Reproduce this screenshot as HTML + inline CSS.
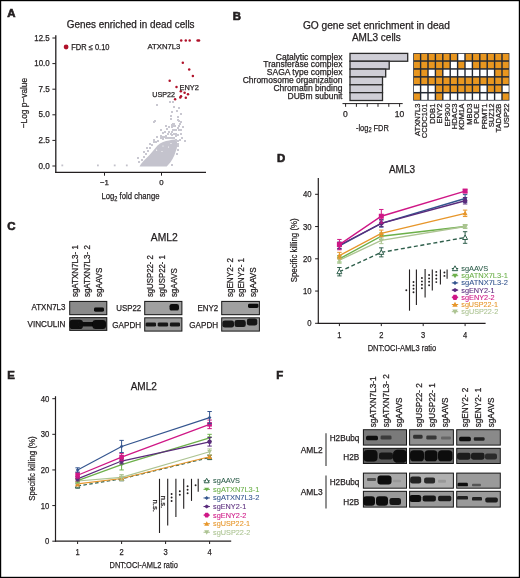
<!DOCTYPE html>
<html><head><meta charset="utf-8"><style>
html,body{margin:0;padding:0;background:#fff;width:520px;height:578px;overflow:hidden}
svg{display:block;font-family:"Liberation Sans", sans-serif;opacity:0.999}
</style></head><body>
<svg width="520" height="578" viewBox="0 0 520 578">
<defs><filter id="b1" x="-50%" y="-50%" width="200%" height="200%"><feGaussianBlur stdDeviation="0.75"/></filter></defs>
<rect width="520" height="578" fill="#fff"/>
<text x="7.3" y="17.1" font-size="11.4" text-anchor="start" fill="#231f20" font-weight="bold" stroke="#231f20" stroke-width="0.65">A</text>
<text x="232.7" y="20.4" font-size="11.4" text-anchor="start" fill="#231f20" font-weight="bold" stroke="#231f20" stroke-width="0.65">B</text>
<text x="7.3" y="229.6" font-size="11.4" text-anchor="start" fill="#231f20" font-weight="bold" stroke="#231f20" stroke-width="0.65">C</text>
<text x="277" y="161.6" font-size="11.4" text-anchor="start" fill="#231f20" font-weight="bold" stroke="#231f20" stroke-width="0.65">D</text>
<text x="7.3" y="379.2" font-size="11.4" text-anchor="start" fill="#231f20" font-weight="bold" stroke="#231f20" stroke-width="0.65">E</text>
<text x="276.2" y="379.2" font-size="11.4" text-anchor="start" fill="#231f20" font-weight="bold" stroke="#231f20" stroke-width="0.65">F</text>
<text x="66.7" y="28.3" font-size="10" text-anchor="start" fill="#231f20" stroke="#231f20" stroke-width="0.25" textLength="127.9" lengthAdjust="spacingAndGlyphs">Genes enriched in dead cells</text>
<line x1="55.8" y1="35.2" x2="55.8" y2="173" stroke="#231f20" stroke-width="1.3"/>
<line x1="55.2" y1="172.3" x2="206" y2="172.3" stroke="#231f20" stroke-width="1.3"/>
<line x1="52.4" y1="166.0" x2="55.7" y2="166.0" stroke="#231f20" stroke-width="1"/>
<text x="49.7" y="168.6" font-size="8.3" text-anchor="end" fill="#231f20" stroke="#231f20" stroke-width="0.25" textLength="11.3" lengthAdjust="spacingAndGlyphs">0.0</text>
<line x1="52.4" y1="140.4" x2="55.7" y2="140.4" stroke="#231f20" stroke-width="1"/>
<text x="49.7" y="143.0" font-size="8.3" text-anchor="end" fill="#231f20" stroke="#231f20" stroke-width="0.25" textLength="11.3" lengthAdjust="spacingAndGlyphs">2.5</text>
<line x1="52.4" y1="114.8" x2="55.7" y2="114.8" stroke="#231f20" stroke-width="1"/>
<text x="49.7" y="117.39999999999999" font-size="8.3" text-anchor="end" fill="#231f20" stroke="#231f20" stroke-width="0.25" textLength="11.3" lengthAdjust="spacingAndGlyphs">5.0</text>
<line x1="52.4" y1="89.19999999999999" x2="55.7" y2="89.19999999999999" stroke="#231f20" stroke-width="1"/>
<text x="49.7" y="91.79999999999998" font-size="8.3" text-anchor="end" fill="#231f20" stroke="#231f20" stroke-width="0.25" textLength="11.3" lengthAdjust="spacingAndGlyphs">7.5</text>
<line x1="52.4" y1="63.599999999999994" x2="55.7" y2="63.599999999999994" stroke="#231f20" stroke-width="1"/>
<text x="49.7" y="66.19999999999999" font-size="8.3" text-anchor="end" fill="#231f20" stroke="#231f20" stroke-width="0.25" textLength="15.4" lengthAdjust="spacingAndGlyphs">10.0</text>
<line x1="52.4" y1="38.0" x2="55.7" y2="38.0" stroke="#231f20" stroke-width="1"/>
<text x="49.7" y="40.6" font-size="8.3" text-anchor="end" fill="#231f20" stroke="#231f20" stroke-width="0.25" textLength="15.4" lengthAdjust="spacingAndGlyphs">12.5</text>
<line x1="104.5" y1="172.3" x2="104.5" y2="175.7" stroke="#231f20" stroke-width="1"/>
<text x="104.5" y="185.2" font-size="7.8" text-anchor="middle" fill="#231f20" stroke="#231f20" stroke-width="0.25">−1</text>
<line x1="161.5" y1="172.3" x2="161.5" y2="175.7" stroke="#231f20" stroke-width="1"/>
<text x="161.5" y="185.2" font-size="7.8" text-anchor="middle" fill="#231f20" stroke="#231f20" stroke-width="0.25">0</text>
<text x="101.5" y="199.2" font-size="9.4" fill="#231f20" stroke="#231f20" stroke-width="0.25" textLength="58" lengthAdjust="spacingAndGlyphs">Log<tspan font-size="6.8" dy="1.9">2</tspan><tspan dy="-1.9"> fold change</tspan></text>
<text transform="translate(26.8,103.1) rotate(-90)" font-size="9.5" text-anchor="middle" fill="#231f20" stroke="#231f20" stroke-width="0.25" textLength="50.5" lengthAdjust="spacingAndGlyphs">−Log p−value</text>
<circle cx="66.10" cy="47.00" r="2.4" fill="#b0122a"/>
<text x="71.3" y="50" font-size="8.2" text-anchor="start" fill="#231f20" stroke="#231f20" stroke-width="0.25" textLength="38.2" lengthAdjust="spacingAndGlyphs">FDR ≤ 0.10</text>
<polygon points="139.5,166.6 141,164 143.5,161 146.5,158 149.5,155 152.5,151.5 155,148.5 157.5,145.5 160,143.5 163,142 166,141 169,140.5 172,139.8 175,139.5 176.8,140.5 177.2,144 176.8,148.5 175.5,152 174.3,155.6 172.5,159 170.5,162.3 168.5,164.5 166.7,166.6" fill="#c4c3cd"/>
<rect x="156" y="104" width="2" height="2" fill="#c9c8d1"/>
<rect x="169" y="101" width="2" height="2" fill="#c9c8d1"/>
<rect x="172" y="101" width="2" height="2" fill="#c9c8d1"/>
<rect x="173" y="106" width="2" height="2" fill="#c9c8d1"/>
<rect x="178" y="107" width="2" height="2" fill="#c9c8d1"/>
<rect x="171" y="111" width="2" height="2" fill="#c9c8d1"/>
<rect x="176" y="110" width="2" height="2" fill="#c9c8d1"/>
<rect x="180" y="113" width="2" height="2" fill="#c9c8d1"/>
<rect x="170" y="115" width="2" height="2" fill="#c9c8d1"/>
<rect x="170" y="118" width="2" height="2" fill="#c9c8d1"/>
<rect x="177" y="116" width="2" height="2" fill="#c9c8d1"/>
<rect x="177" y="119" width="2" height="2" fill="#c9c8d1"/>
<rect x="178" y="120" width="2" height="2" fill="#c9c8d1"/>
<rect x="154" y="120" width="2" height="2" fill="#c9c8d1"/>
<rect x="153" y="121" width="2" height="2" fill="#c9c8d1"/>
<rect x="180" y="121" width="2" height="2" fill="#c9c8d1"/>
<rect x="179" y="123" width="2" height="2" fill="#c9c8d1"/>
<rect x="178" y="125" width="2" height="2" fill="#c9c8d1"/>
<rect x="177" y="127" width="2" height="2" fill="#c9c8d1"/>
<rect x="172" y="123" width="2" height="2" fill="#c9c8d1"/>
<rect x="171" y="124" width="2" height="2" fill="#c9c8d1"/>
<rect x="173" y="125" width="2" height="2" fill="#c9c8d1"/>
<rect x="173" y="123" width="2" height="2" fill="#c9c8d1"/>
<rect x="174" y="125" width="2" height="2" fill="#c9c8d1"/>
<rect x="171" y="126" width="2" height="2" fill="#c9c8d1"/>
<rect x="182" y="126" width="2" height="2" fill="#c9c8d1"/>
<rect x="165" y="125" width="2" height="2" fill="#c9c8d1"/>
<rect x="168" y="126" width="2" height="2" fill="#c9c8d1"/>
<rect x="177" y="127" width="2" height="2" fill="#c9c8d1"/>
<rect x="175" y="129" width="2" height="2" fill="#c9c8d1"/>
<rect x="178" y="129" width="2" height="2" fill="#c9c8d1"/>
<rect x="166" y="128" width="2" height="2" fill="#c9c8d1"/>
<rect x="160" y="129" width="2" height="2" fill="#c9c8d1"/>
<rect x="172" y="129" width="2" height="2" fill="#c9c8d1"/>
<rect x="174" y="129" width="2" height="2" fill="#c9c8d1"/>
<rect x="180" y="129" width="2" height="2" fill="#c9c8d1"/>
<rect x="164" y="131" width="2" height="2" fill="#c9c8d1"/>
<rect x="162" y="132" width="2" height="2" fill="#c9c8d1"/>
<rect x="167" y="133" width="2" height="2" fill="#c9c8d1"/>
<rect x="170" y="133" width="2" height="2" fill="#c9c8d1"/>
<rect x="171" y="134" width="2" height="2" fill="#c9c8d1"/>
<rect x="173" y="133" width="2" height="2" fill="#c9c8d1"/>
<rect x="175" y="135" width="2" height="2" fill="#c9c8d1"/>
<rect x="175" y="133" width="2" height="2" fill="#c9c8d1"/>
<rect x="177" y="134" width="2" height="2" fill="#c9c8d1"/>
<rect x="180" y="133" width="2" height="2" fill="#c9c8d1"/>
<rect x="160" y="135" width="2" height="2" fill="#c9c8d1"/>
<rect x="156" y="136" width="2" height="2" fill="#c9c8d1"/>
<rect x="163" y="136" width="2" height="2" fill="#c9c8d1"/>
<rect x="153" y="139" width="2" height="2" fill="#c9c8d1"/>
<rect x="153" y="141" width="2" height="2" fill="#c9c8d1"/>
<rect x="160" y="137" width="2" height="2" fill="#c9c8d1"/>
<rect x="184" y="140" width="2" height="2" fill="#c9c8d1"/>
<rect x="165" y="137" width="2" height="2" fill="#c9c8d1"/>
<rect x="167" y="137" width="2" height="2" fill="#c9c8d1"/>
<rect x="169" y="137" width="2" height="2" fill="#c9c8d1"/>
<rect x="171" y="137" width="2" height="2" fill="#c9c8d1"/>
<rect x="173" y="137" width="2" height="2" fill="#c9c8d1"/>
<rect x="175" y="139" width="2" height="2" fill="#c9c8d1"/>
<rect x="177" y="140" width="2" height="2" fill="#c9c8d1"/>
<rect x="162" y="138" width="2" height="2" fill="#c9c8d1"/>
<rect x="177" y="143" width="2" height="2" fill="#c9c8d1"/>
<rect x="177" y="145" width="2" height="2" fill="#c9c8d1"/>
<rect x="177" y="149" width="2" height="2" fill="#c9c8d1"/>
<rect x="176" y="153" width="2" height="2" fill="#c9c8d1"/>
<rect x="181" y="137" width="2" height="2" fill="#c9c8d1"/>
<rect x="179" y="139" width="2" height="2" fill="#c9c8d1"/>
<rect x="171" y="164" width="2" height="2" fill="#c9c8d1"/>
<rect x="151" y="144" width="2" height="2" fill="#c9c8d1"/>
<rect x="149" y="147" width="2" height="2" fill="#c9c8d1"/>
<rect x="147" y="150" width="2" height="2" fill="#c9c8d1"/>
<rect x="145" y="153" width="2" height="2" fill="#c9c8d1"/>
<rect x="143" y="156" width="2" height="2" fill="#c9c8d1"/>
<rect x="141" y="159" width="2" height="2" fill="#c9c8d1"/>
<rect x="138" y="161" width="2" height="2" fill="#c9c8d1"/>
<rect x="137" y="157" width="2" height="2" fill="#c9c8d1"/>
<rect x="155" y="141" width="2" height="2" fill="#c9c8d1"/>
<rect x="157" y="140" width="2" height="2" fill="#c9c8d1"/>
<rect x="149" y="143" width="2" height="2" fill="#c9c8d1"/>
<rect x="146" y="147" width="2" height="2" fill="#c9c8d1"/>
<rect x="143" y="151" width="2" height="2" fill="#c9c8d1"/>
<rect x="161" y="136" width="2" height="2" fill="#c9c8d1"/>
<rect x="165" y="135" width="2" height="2" fill="#c9c8d1"/>
<rect x="168" y="131" width="2" height="2" fill="#c9c8d1"/>
<rect x="171" y="131" width="2" height="2" fill="#c9c8d1"/>
<rect x="61.40" y="164.5" width="1.8" height="1.8" fill="#c3c2cb"/>
<rect x="97.00" y="164.5" width="1.8" height="1.8" fill="#c3c2cb"/>
<rect x="113.80" y="164.5" width="1.8" height="1.8" fill="#c3c2cb"/>
<rect x="125.90" y="164.5" width="1.8" height="1.8" fill="#c3c2cb"/>
<circle cx="156.60" cy="150.20" r="0.6" fill="#ffffff"/>
<circle cx="162.00" cy="151.50" r="0.6" fill="#ffffff"/>
<circle cx="163.00" cy="146.00" r="0.6" fill="#ffffff"/>
<circle cx="171.00" cy="143.50" r="0.6" fill="#ffffff"/>
<circle cx="168.50" cy="147.00" r="0.6" fill="#ffffff"/>
<circle cx="181.20" cy="40.50" r="1.25" fill="#b0122a"/>
<circle cx="185.80" cy="40.50" r="1.25" fill="#b0122a"/>
<circle cx="189.70" cy="40.50" r="1.25" fill="#b0122a"/>
<circle cx="197.60" cy="40.40" r="1.25" fill="#b0122a"/>
<circle cx="199.00" cy="40.60" r="1.25" fill="#b0122a"/>
<circle cx="182.80" cy="62.80" r="1.25" fill="#b0122a"/>
<circle cx="189.20" cy="69.40" r="1.25" fill="#b0122a"/>
<circle cx="192.90" cy="76.00" r="1.25" fill="#b0122a"/>
<circle cx="169.70" cy="80.80" r="1.25" fill="#b0122a"/>
<circle cx="176.50" cy="86.90" r="1.25" fill="#b0122a"/>
<circle cx="180.80" cy="91.20" r="1.25" fill="#b0122a"/>
<circle cx="184.60" cy="92.80" r="1.25" fill="#b0122a"/>
<circle cx="188.00" cy="94.30" r="1.25" fill="#b0122a"/>
<circle cx="180.30" cy="97.40" r="1.25" fill="#b0122a"/>
<circle cx="181.00" cy="96.30" r="1.25" fill="#b0122a"/>
<circle cx="185.80" cy="97.70" r="1.25" fill="#b0122a"/>
<circle cx="175.10" cy="99.20" r="1.25" fill="#b0122a"/>
<text x="147.5" y="48.5" font-size="7.7" text-anchor="start" fill="#231f20" stroke="#231f20" stroke-width="0.25" textLength="32.9" lengthAdjust="spacingAndGlyphs">ATXN7L3</text>
<text x="179.5" y="89.7" font-size="7.7" text-anchor="start" fill="#231f20" stroke="#231f20" stroke-width="0.25" textLength="19.4" lengthAdjust="spacingAndGlyphs">ENY2</text>
<text x="152.3" y="97.1" font-size="7.7" text-anchor="start" fill="#231f20" stroke="#231f20" stroke-width="0.25" textLength="22.7" lengthAdjust="spacingAndGlyphs">USP22</text>
<text x="376.4" y="28.6" font-size="10" text-anchor="middle" fill="#231f20" stroke="#231f20" stroke-width="0.25" textLength="147" lengthAdjust="spacingAndGlyphs">GO gene set enrichment in dead</text>
<text x="376.4" y="41" font-size="10" text-anchor="middle" fill="#231f20" stroke="#231f20" stroke-width="0.25">AML3 cells</text>
<text x="342.4" y="59.6" font-size="8.5" text-anchor="end" fill="#231f20" stroke="#231f20" stroke-width="0.25">Catalytic complex</text>
<text x="342.4" y="67.45" font-size="8.5" text-anchor="end" fill="#231f20" stroke="#231f20" stroke-width="0.25">Transferase complex</text>
<text x="342.4" y="75.3" font-size="8.5" text-anchor="end" fill="#231f20" stroke="#231f20" stroke-width="0.25">SAGA type complex</text>
<text x="342.4" y="83.15" font-size="8.5" text-anchor="end" fill="#231f20" stroke="#231f20" stroke-width="0.25">Chromosome organization</text>
<text x="342.4" y="91.0" font-size="8.5" text-anchor="end" fill="#231f20" stroke="#231f20" stroke-width="0.25">Chromatin binding</text>
<text x="342.4" y="98.85" font-size="8.5" text-anchor="end" fill="#231f20" stroke="#231f20" stroke-width="0.25">DUBm subunit</text>
<rect x="350" y="53.4" width="57.69999999999999" height="7.85" fill="#cfced6" stroke="#2b2b2b" stroke-width="1.3"/>
<rect x="350" y="61.25" width="39.19999999999999" height="7.85" fill="#cfced6" stroke="#2b2b2b" stroke-width="1.3"/>
<rect x="350" y="69.1" width="35.69999999999999" height="7.85" fill="#cfced6" stroke="#2b2b2b" stroke-width="1.3"/>
<rect x="350" y="76.94999999999999" width="32.5" height="7.85" fill="#cfced6" stroke="#2b2b2b" stroke-width="1.3"/>
<rect x="350" y="84.8" width="32.5" height="7.85" fill="#cfced6" stroke="#2b2b2b" stroke-width="1.3"/>
<rect x="350" y="92.65" width="32.5" height="7.85" fill="#cfced6" stroke="#2b2b2b" stroke-width="1.3"/>
<line x1="342.5" y1="103.6" x2="402.7" y2="103.6" stroke="#231f20" stroke-width="1"/>
<line x1="345.6" y1="103.6" x2="345.6" y2="106.8" stroke="#231f20" stroke-width="1"/>
<line x1="356.40000000000003" y1="103.6" x2="356.40000000000003" y2="106.8" stroke="#231f20" stroke-width="1"/>
<line x1="367.20000000000005" y1="103.6" x2="367.20000000000005" y2="106.8" stroke="#231f20" stroke-width="1"/>
<line x1="378.0" y1="103.6" x2="378.0" y2="106.8" stroke="#231f20" stroke-width="1"/>
<line x1="388.8" y1="103.6" x2="388.8" y2="106.8" stroke="#231f20" stroke-width="1"/>
<line x1="399.6" y1="103.6" x2="399.6" y2="106.8" stroke="#231f20" stroke-width="1"/>
<text x="345.3" y="117" font-size="8.5" text-anchor="middle" fill="#231f20" stroke="#231f20" stroke-width="0.25">0</text>
<text x="399.4" y="117" font-size="8.5" text-anchor="middle" fill="#231f20" stroke="#231f20" stroke-width="0.25">10</text>
<text x="356" y="130.5" font-size="8.8" fill="#231f20" stroke="#231f20" stroke-width="0.25" textLength="32.8" lengthAdjust="spacingAndGlyphs">-log<tspan font-size="6.6" dy="1.8">2</tspan><tspan dy="-1.8"> FDR</tspan></text>
<rect x="413.2" y="53.1" width="96.2" height="47.519999999999996" fill="#232935"/>
<rect x="413.9" y="53.85" width="6.0" height="6.42" fill="#e8961f"/>
<rect x="421.29999999999995" y="53.85" width="6.0" height="6.42" fill="#e8961f"/>
<rect x="428.7" y="53.85" width="6.0" height="6.42" fill="#e8961f"/>
<rect x="436.09999999999997" y="53.85" width="6.0" height="6.42" fill="#e8961f"/>
<rect x="443.5" y="53.85" width="6.0" height="6.42" fill="#e8961f"/>
<rect x="450.9" y="53.85" width="6.0" height="6.42" fill="#e8961f"/>
<rect x="458.3" y="53.85" width="6.0" height="6.42" fill="#ffffff"/>
<rect x="465.7" y="53.85" width="6.0" height="6.42" fill="#e8961f"/>
<rect x="473.09999999999997" y="53.85" width="6.0" height="6.42" fill="#e8961f"/>
<rect x="480.5" y="53.85" width="6.0" height="6.42" fill="#e8961f"/>
<rect x="487.9" y="53.85" width="6.0" height="6.42" fill="#e8961f"/>
<rect x="495.3" y="53.85" width="6.0" height="6.42" fill="#e8961f"/>
<rect x="502.7" y="53.85" width="6.0" height="6.42" fill="#e8961f"/>
<rect x="413.9" y="61.77" width="6.0" height="6.42" fill="#e8961f"/>
<rect x="421.29999999999995" y="61.77" width="6.0" height="6.42" fill="#e8961f"/>
<rect x="428.7" y="61.77" width="6.0" height="6.42" fill="#e8961f"/>
<rect x="436.09999999999997" y="61.77" width="6.0" height="6.42" fill="#e8961f"/>
<rect x="443.5" y="61.77" width="6.0" height="6.42" fill="#e8961f"/>
<rect x="450.9" y="61.77" width="6.0" height="6.42" fill="#ffffff"/>
<rect x="458.3" y="61.77" width="6.0" height="6.42" fill="#e8961f"/>
<rect x="465.7" y="61.77" width="6.0" height="6.42" fill="#ffffff"/>
<rect x="473.09999999999997" y="61.77" width="6.0" height="6.42" fill="#e8961f"/>
<rect x="480.5" y="61.77" width="6.0" height="6.42" fill="#e8961f"/>
<rect x="487.9" y="61.77" width="6.0" height="6.42" fill="#e8961f"/>
<rect x="495.3" y="61.77" width="6.0" height="6.42" fill="#e8961f"/>
<rect x="502.7" y="61.77" width="6.0" height="6.42" fill="#e8961f"/>
<rect x="413.9" y="69.69" width="6.0" height="6.42" fill="#e8961f"/>
<rect x="421.29999999999995" y="69.69" width="6.0" height="6.42" fill="#e8961f"/>
<rect x="428.7" y="69.69" width="6.0" height="6.42" fill="#ffffff"/>
<rect x="436.09999999999997" y="69.69" width="6.0" height="6.42" fill="#e8961f"/>
<rect x="443.5" y="69.69" width="6.0" height="6.42" fill="#ffffff"/>
<rect x="450.9" y="69.69" width="6.0" height="6.42" fill="#ffffff"/>
<rect x="458.3" y="69.69" width="6.0" height="6.42" fill="#ffffff"/>
<rect x="465.7" y="69.69" width="6.0" height="6.42" fill="#ffffff"/>
<rect x="473.09999999999997" y="69.69" width="6.0" height="6.42" fill="#ffffff"/>
<rect x="480.5" y="69.69" width="6.0" height="6.42" fill="#ffffff"/>
<rect x="487.9" y="69.69" width="6.0" height="6.42" fill="#ffffff"/>
<rect x="495.3" y="69.69" width="6.0" height="6.42" fill="#e8961f"/>
<rect x="502.7" y="69.69" width="6.0" height="6.42" fill="#e8961f"/>
<rect x="413.9" y="77.61" width="6.0" height="6.42" fill="#e8961f"/>
<rect x="421.29999999999995" y="77.61" width="6.0" height="6.42" fill="#e8961f"/>
<rect x="428.7" y="77.61" width="6.0" height="6.42" fill="#e8961f"/>
<rect x="436.09999999999997" y="77.61" width="6.0" height="6.42" fill="#e8961f"/>
<rect x="443.5" y="77.61" width="6.0" height="6.42" fill="#e8961f"/>
<rect x="450.9" y="77.61" width="6.0" height="6.42" fill="#e8961f"/>
<rect x="458.3" y="77.61" width="6.0" height="6.42" fill="#e8961f"/>
<rect x="465.7" y="77.61" width="6.0" height="6.42" fill="#e8961f"/>
<rect x="473.09999999999997" y="77.61" width="6.0" height="6.42" fill="#e8961f"/>
<rect x="480.5" y="77.61" width="6.0" height="6.42" fill="#e8961f"/>
<rect x="487.9" y="77.61" width="6.0" height="6.42" fill="#e8961f"/>
<rect x="495.3" y="77.61" width="6.0" height="6.42" fill="#e8961f"/>
<rect x="502.7" y="77.61" width="6.0" height="6.42" fill="#e8961f"/>
<rect x="413.9" y="85.53" width="6.0" height="6.42" fill="#ffffff"/>
<rect x="421.29999999999995" y="85.53" width="6.0" height="6.42" fill="#ffffff"/>
<rect x="428.7" y="85.53" width="6.0" height="6.42" fill="#ffffff"/>
<rect x="436.09999999999997" y="85.53" width="6.0" height="6.42" fill="#e8961f"/>
<rect x="443.5" y="85.53" width="6.0" height="6.42" fill="#e8961f"/>
<rect x="450.9" y="85.53" width="6.0" height="6.42" fill="#e8961f"/>
<rect x="458.3" y="85.53" width="6.0" height="6.42" fill="#e8961f"/>
<rect x="465.7" y="85.53" width="6.0" height="6.42" fill="#e8961f"/>
<rect x="473.09999999999997" y="85.53" width="6.0" height="6.42" fill="#e8961f"/>
<rect x="480.5" y="85.53" width="6.0" height="6.42" fill="#ffffff"/>
<rect x="487.9" y="85.53" width="6.0" height="6.42" fill="#e8961f"/>
<rect x="495.3" y="85.53" width="6.0" height="6.42" fill="#e8961f"/>
<rect x="502.7" y="85.53" width="6.0" height="6.42" fill="#ffffff"/>
<rect x="413.9" y="93.45" width="6.0" height="6.42" fill="#e8961f"/>
<rect x="421.29999999999995" y="93.45" width="6.0" height="6.42" fill="#ffffff"/>
<rect x="428.7" y="93.45" width="6.0" height="6.42" fill="#ffffff"/>
<rect x="436.09999999999997" y="93.45" width="6.0" height="6.42" fill="#e8961f"/>
<rect x="443.5" y="93.45" width="6.0" height="6.42" fill="#ffffff"/>
<rect x="450.9" y="93.45" width="6.0" height="6.42" fill="#ffffff"/>
<rect x="458.3" y="93.45" width="6.0" height="6.42" fill="#ffffff"/>
<rect x="465.7" y="93.45" width="6.0" height="6.42" fill="#ffffff"/>
<rect x="473.09999999999997" y="93.45" width="6.0" height="6.42" fill="#ffffff"/>
<rect x="480.5" y="93.45" width="6.0" height="6.42" fill="#ffffff"/>
<rect x="487.9" y="93.45" width="6.0" height="6.42" fill="#ffffff"/>
<rect x="495.3" y="93.45" width="6.0" height="6.42" fill="#ffffff"/>
<rect x="502.7" y="93.45" width="6.0" height="6.42" fill="#e8961f"/>
<text transform="translate(420.0,103.6) rotate(-90)" font-size="7.6" text-anchor="end" fill="#231f20" stroke="#231f20" stroke-width="0.25">ATXN7L3</text>
<text transform="translate(427.4,103.6) rotate(-90)" font-size="7.6" text-anchor="end" fill="#231f20" stroke="#231f20" stroke-width="0.25">CCDC101</text>
<text transform="translate(434.8,103.6) rotate(-90)" font-size="7.6" text-anchor="end" fill="#231f20" stroke="#231f20" stroke-width="0.25">DDB1</text>
<text transform="translate(442.2,103.6) rotate(-90)" font-size="7.6" text-anchor="end" fill="#231f20" stroke="#231f20" stroke-width="0.25">ENY2</text>
<text transform="translate(449.6,103.6) rotate(-90)" font-size="7.6" text-anchor="end" fill="#231f20" stroke="#231f20" stroke-width="0.25">EP300</text>
<text transform="translate(457.0,103.6) rotate(-90)" font-size="7.6" text-anchor="end" fill="#231f20" stroke="#231f20" stroke-width="0.25">HDAC3</text>
<text transform="translate(464.40000000000003,103.6) rotate(-90)" font-size="7.6" text-anchor="end" fill="#231f20" stroke="#231f20" stroke-width="0.25">KDM1A</text>
<text transform="translate(471.8,103.6) rotate(-90)" font-size="7.6" text-anchor="end" fill="#231f20" stroke="#231f20" stroke-width="0.25">MBD3</text>
<text transform="translate(479.2,103.6) rotate(-90)" font-size="7.6" text-anchor="end" fill="#231f20" stroke="#231f20" stroke-width="0.25">POLE</text>
<text transform="translate(486.6,103.6) rotate(-90)" font-size="7.6" text-anchor="end" fill="#231f20" stroke="#231f20" stroke-width="0.25">PRMT1</text>
<text transform="translate(494.0,103.6) rotate(-90)" font-size="7.6" text-anchor="end" fill="#231f20" stroke="#231f20" stroke-width="0.25">SUZ12</text>
<text transform="translate(501.40000000000003,103.6) rotate(-90)" font-size="7.6" text-anchor="end" fill="#231f20" stroke="#231f20" stroke-width="0.25">TADA2B</text>
<text transform="translate(508.8,103.6) rotate(-90)" font-size="7.6" text-anchor="end" fill="#231f20" stroke="#231f20" stroke-width="0.25">USP22</text>
<text x="164.3" y="241.4" font-size="10.3" text-anchor="middle" fill="#231f20" stroke="#231f20" stroke-width="0.25" textLength="27" lengthAdjust="spacingAndGlyphs">AML2</text>
<rect x="69.2" y="300.9" width="38.1" height="14.3" fill="#161616"/>
<rect x="70.2" y="301.9" width="36.1" height="12.3" fill="#8a8a8a"/>
<rect x="94.00" y="307.40" width="10.00" height="4.40" rx="1.47" fill="#0c0c0c" filter="url(#b1)"/>
<rect x="69.2" y="317.1" width="38.1" height="13.8" fill="#161616"/>
<rect x="70.2" y="318.1" width="36.1" height="11.8" fill="#6e6e6e"/>
<rect x="69.50" y="319.70" width="13.50" height="9.40" rx="3.13" fill="#0c0c0c" filter="url(#b1)"/>
<rect x="78.00" y="321.90" width="19.00" height="4.60" rx="1.53" fill="#111" filter="url(#b1)"/>
<rect x="92.50" y="319.90" width="13.50" height="9.00" rx="3.00" fill="#0c0c0c" filter="url(#b1)"/>
<rect x="144.2" y="300.9" width="38.2" height="14.3" fill="#161616"/>
<rect x="145.2" y="301.9" width="36.2" height="12.3" fill="#a0a0a0"/>
<rect x="169.50" y="304.00" width="9.50" height="6.60" rx="2.20" fill="#0e0e0e" filter="url(#b1)"/>
<rect x="144.2" y="317.3" width="38.2" height="14.3" fill="#161616"/>
<rect x="145.2" y="318.3" width="36.2" height="12.3" fill="#9a9a9a"/>
<rect x="145.60" y="322.40" width="10.40" height="4.20" rx="1.40" fill="#141414" filter="url(#b1)"/>
<rect x="157.70" y="322.40" width="10.40" height="4.20" rx="1.40" fill="#141414" filter="url(#b1)"/>
<rect x="169.90" y="322.40" width="10.10" height="4.20" rx="1.40" fill="#141414" filter="url(#b1)"/>
<rect x="221.2" y="300.9" width="38.7" height="14.3" fill="#161616"/>
<rect x="222.2" y="301.9" width="36.7" height="12.3" fill="#a0a0a0"/>
<rect x="248.00" y="303.70" width="10.50" height="4.20" rx="1.40" fill="#0e0e0e" filter="url(#b1)"/>
<rect x="221.2" y="317.3" width="38.7" height="14.3" fill="#161616"/>
<rect x="222.2" y="318.3" width="36.7" height="12.3" fill="#999999"/>
<rect x="222.40" y="320.40" width="11.60" height="7.20" rx="2.40" fill="#161616" filter="url(#b1)"/>
<rect x="234.50" y="320.10" width="11.30" height="7.00" rx="2.33" fill="#161616" filter="url(#b1)"/>
<rect x="246.90" y="318.50" width="10.40" height="7.00" rx="2.33" fill="#161616" filter="url(#b1)"/>
<text x="65.5" y="310" font-size="8.6" text-anchor="end" fill="#231f20" stroke="#231f20" stroke-width="0.25" textLength="34" lengthAdjust="spacingAndGlyphs">ATXN7L3</text>
<text x="65.5" y="327.3" font-size="8.6" text-anchor="end" fill="#231f20" stroke="#231f20" stroke-width="0.25" textLength="38" lengthAdjust="spacingAndGlyphs">VINCULIN</text>
<text x="141.2" y="310.9" font-size="8.6" text-anchor="end" fill="#231f20" stroke="#231f20" stroke-width="0.25" textLength="25" lengthAdjust="spacingAndGlyphs">USP22</text>
<text x="141.2" y="328" font-size="8.6" text-anchor="end" fill="#231f20" stroke="#231f20" stroke-width="0.25" textLength="28.9" lengthAdjust="spacingAndGlyphs">GAPDH</text>
<text x="218.2" y="310.9" font-size="8.6" text-anchor="end" fill="#231f20" stroke="#231f20" stroke-width="0.25" textLength="20.8" lengthAdjust="spacingAndGlyphs">ENY2</text>
<text x="218.2" y="328" font-size="8.6" text-anchor="end" fill="#231f20" stroke="#231f20" stroke-width="0.25" textLength="28.9" lengthAdjust="spacingAndGlyphs">GAPDH</text>
<text transform="translate(77.6,297.1) rotate(-90)" font-size="8.5" text-anchor="start" fill="#231f20" stroke="#231f20" stroke-width="0.25" textLength="52" lengthAdjust="spacingAndGlyphs">sgATXN7L3- 1</text>
<text transform="translate(90.4,297.1) rotate(-90)" font-size="8.5" text-anchor="start" fill="#231f20" stroke="#231f20" stroke-width="0.25" textLength="52" lengthAdjust="spacingAndGlyphs">sgATXN7L3- 2</text>
<text transform="translate(102.2,297.1) rotate(-90)" font-size="8.5" text-anchor="start" fill="#231f20" stroke="#231f20" stroke-width="0.25" textLength="29.4" lengthAdjust="spacingAndGlyphs">sgAAVS</text>
<text transform="translate(153.0,297.1) rotate(-90)" font-size="8.5" text-anchor="start" fill="#231f20" stroke="#231f20" stroke-width="0.25" textLength="42" lengthAdjust="spacingAndGlyphs">sgUSP22- 2</text>
<text transform="translate(164.9,297.1) rotate(-90)" font-size="8.5" text-anchor="start" fill="#231f20" stroke="#231f20" stroke-width="0.25" textLength="42" lengthAdjust="spacingAndGlyphs">sgUSP22- 1</text>
<text transform="translate(177.3,297.1) rotate(-90)" font-size="8.5" text-anchor="start" fill="#231f20" stroke="#231f20" stroke-width="0.25" textLength="29" lengthAdjust="spacingAndGlyphs">sgAAVS</text>
<text transform="translate(232.5,297.1) rotate(-90)" font-size="8.5" text-anchor="start" fill="#231f20" stroke="#231f20" stroke-width="0.25" textLength="39.2" lengthAdjust="spacingAndGlyphs">sgENY2- 2</text>
<text transform="translate(243.7,297.1) rotate(-90)" font-size="8.5" text-anchor="start" fill="#231f20" stroke="#231f20" stroke-width="0.25" textLength="39.2" lengthAdjust="spacingAndGlyphs">sgENY2- 1</text>
<text transform="translate(255.9,297.1) rotate(-90)" font-size="8.5" text-anchor="start" fill="#231f20" stroke="#231f20" stroke-width="0.25" textLength="29.7" lengthAdjust="spacingAndGlyphs">sgAAVS</text>
<line x1="318.3" y1="178" x2="318.3" y2="323.8" stroke="#231f20" stroke-width="1.2"/>
<line x1="317.8" y1="323.3" x2="485.6" y2="323.3" stroke="#231f20" stroke-width="1.2"/>
<line x1="315.1" y1="323.3" x2="318.3" y2="323.3" stroke="#231f20" stroke-width="1"/>
<text x="311.6" y="326.3" font-size="9" text-anchor="end" fill="#231f20" stroke="#231f20" stroke-width="0.25" textLength="4.3" lengthAdjust="spacingAndGlyphs">0</text>
<line x1="315.1" y1="291.05" x2="318.3" y2="291.05" stroke="#231f20" stroke-width="1"/>
<text x="311.6" y="294.05" font-size="9" text-anchor="end" fill="#231f20" stroke="#231f20" stroke-width="0.25" textLength="8.6" lengthAdjust="spacingAndGlyphs">10</text>
<line x1="315.1" y1="258.8" x2="318.3" y2="258.8" stroke="#231f20" stroke-width="1"/>
<text x="311.6" y="261.8" font-size="9" text-anchor="end" fill="#231f20" stroke="#231f20" stroke-width="0.25" textLength="8.6" lengthAdjust="spacingAndGlyphs">20</text>
<line x1="315.1" y1="226.55" x2="318.3" y2="226.55" stroke="#231f20" stroke-width="1"/>
<text x="311.6" y="229.55" font-size="9" text-anchor="end" fill="#231f20" stroke="#231f20" stroke-width="0.25" textLength="8.6" lengthAdjust="spacingAndGlyphs">30</text>
<line x1="315.1" y1="194.3" x2="318.3" y2="194.3" stroke="#231f20" stroke-width="1"/>
<text x="311.6" y="197.3" font-size="9" text-anchor="end" fill="#231f20" stroke="#231f20" stroke-width="0.25" textLength="8.6" lengthAdjust="spacingAndGlyphs">40</text>
<line x1="339.4" y1="323.3" x2="339.4" y2="326.1" stroke="#231f20" stroke-width="1"/>
<text x="339.4" y="337.5" font-size="9" text-anchor="middle" fill="#231f20" stroke="#231f20" stroke-width="0.25" textLength="4.2" lengthAdjust="spacingAndGlyphs">1</text>
<line x1="381.29999999999995" y1="323.3" x2="381.29999999999995" y2="326.1" stroke="#231f20" stroke-width="1"/>
<text x="381.29999999999995" y="337.5" font-size="9" text-anchor="middle" fill="#231f20" stroke="#231f20" stroke-width="0.25" textLength="4.2" lengthAdjust="spacingAndGlyphs">2</text>
<line x1="423.2" y1="323.3" x2="423.2" y2="326.1" stroke="#231f20" stroke-width="1"/>
<text x="423.2" y="337.5" font-size="9" text-anchor="middle" fill="#231f20" stroke="#231f20" stroke-width="0.25" textLength="4.2" lengthAdjust="spacingAndGlyphs">3</text>
<line x1="465.09999999999997" y1="323.3" x2="465.09999999999997" y2="326.1" stroke="#231f20" stroke-width="1"/>
<text x="465.09999999999997" y="337.5" font-size="9" text-anchor="middle" fill="#231f20" stroke="#231f20" stroke-width="0.25" textLength="4.2" lengthAdjust="spacingAndGlyphs">4</text>
<text x="367.7" y="350.5" font-size="9.5" text-anchor="start" fill="#231f20" stroke="#231f20" stroke-width="0.25" textLength="68.5" lengthAdjust="spacingAndGlyphs">DNT:OCI-AML3 ratio</text>
<text transform="translate(297.1,250.3) rotate(-90)" font-size="9.8" text-anchor="middle" fill="#231f20" stroke="#231f20" stroke-width="0.25" textLength="64" lengthAdjust="spacingAndGlyphs">Specific killing (%)</text>
<text x="402" y="172.6" font-size="10" text-anchor="middle" fill="#231f20" stroke="#231f20" stroke-width="0.25">AML3</text>
<polyline points="339.40,271.70 381.30,252.35 465.10,237.51" fill="none" stroke="#2f5f4c" stroke-width="1.4" stroke-dasharray="4,2.6"/>
<line x1="339.4" y1="267.5075" x2="339.4" y2="275.8925" stroke="#2f5f4c" stroke-width="1"/>
<line x1="337.2" y1="267.5075" x2="341.59999999999997" y2="267.5075" stroke="#2f5f4c" stroke-width="1"/>
<line x1="337.2" y1="275.8925" x2="341.59999999999997" y2="275.8925" stroke="#2f5f4c" stroke-width="1"/>
<line x1="381.29999999999995" y1="247.83500000000004" x2="381.29999999999995" y2="256.865" stroke="#2f5f4c" stroke-width="1"/>
<line x1="379.09999999999997" y1="247.83500000000004" x2="383.49999999999994" y2="247.83500000000004" stroke="#2f5f4c" stroke-width="1"/>
<line x1="379.09999999999997" y1="256.865" x2="383.49999999999994" y2="256.865" stroke="#2f5f4c" stroke-width="1"/>
<line x1="465.09999999999997" y1="231.70999999999998" x2="465.09999999999997" y2="243.32" stroke="#2f5f4c" stroke-width="1"/>
<line x1="462.9" y1="231.70999999999998" x2="467.29999999999995" y2="231.70999999999998" stroke="#2f5f4c" stroke-width="1"/>
<line x1="462.9" y1="243.32" x2="467.29999999999995" y2="243.32" stroke="#2f5f4c" stroke-width="1"/>
<polygon points="339.4,269.2 341.9,273.7 336.9,273.7" fill="#fff" stroke="#2f5f4c" stroke-width="1"/>
<polygon points="381.29999999999995,249.85000000000002 383.79999999999995,254.35000000000002 378.79999999999995,254.35000000000002" fill="#fff" stroke="#2f5f4c" stroke-width="1"/>
<polygon points="465.09999999999997,235.015 467.59999999999997,239.515 462.59999999999997,239.515" fill="#fff" stroke="#2f5f4c" stroke-width="1"/>
<polyline points="339.40,258.80 381.30,236.23 465.10,226.55" fill="none" stroke="#6cb04a" stroke-width="1.4"/>
<line x1="339.4" y1="255.57500000000002" x2="339.4" y2="262.02500000000003" stroke="#6cb04a" stroke-width="1"/>
<line x1="337.2" y1="255.57500000000002" x2="341.59999999999997" y2="255.57500000000002" stroke="#6cb04a" stroke-width="1"/>
<line x1="337.2" y1="262.02500000000003" x2="341.59999999999997" y2="262.02500000000003" stroke="#6cb04a" stroke-width="1"/>
<line x1="381.29999999999995" y1="233.00000000000003" x2="381.29999999999995" y2="239.45000000000002" stroke="#6cb04a" stroke-width="1"/>
<line x1="379.09999999999997" y1="233.00000000000003" x2="383.49999999999994" y2="233.00000000000003" stroke="#6cb04a" stroke-width="1"/>
<line x1="379.09999999999997" y1="239.45000000000002" x2="383.49999999999994" y2="239.45000000000002" stroke="#6cb04a" stroke-width="1"/>
<line x1="465.09999999999997" y1="224.9375" x2="465.09999999999997" y2="228.16250000000002" stroke="#6cb04a" stroke-width="1"/>
<line x1="462.9" y1="224.9375" x2="467.29999999999995" y2="224.9375" stroke="#6cb04a" stroke-width="1"/>
<line x1="462.9" y1="228.16250000000002" x2="467.29999999999995" y2="228.16250000000002" stroke="#6cb04a" stroke-width="1"/>
<polygon points="336.9,257.05 341.9,257.05 339.4,261.05" fill="#6cb04a"/>
<polygon points="378.79999999999995,234.47500000000002 383.79999999999995,234.47500000000002 381.29999999999995,238.47500000000002" fill="#6cb04a"/>
<polygon points="462.59999999999997,224.8 467.59999999999997,224.8 465.09999999999997,228.8" fill="#6cb04a"/>
<polyline points="339.40,260.09 381.30,240.42 465.10,226.55" fill="none" stroke="#adc493" stroke-width="1.4"/>
<line x1="339.4" y1="256.865" x2="339.4" y2="263.31500000000005" stroke="#adc493" stroke-width="1"/>
<line x1="337.2" y1="256.865" x2="341.59999999999997" y2="256.865" stroke="#adc493" stroke-width="1"/>
<line x1="337.2" y1="263.31500000000005" x2="341.59999999999997" y2="263.31500000000005" stroke="#adc493" stroke-width="1"/>
<line x1="381.29999999999995" y1="237.19250000000002" x2="381.29999999999995" y2="243.6425" stroke="#adc493" stroke-width="1"/>
<line x1="379.09999999999997" y1="237.19250000000002" x2="383.49999999999994" y2="237.19250000000002" stroke="#adc493" stroke-width="1"/>
<line x1="379.09999999999997" y1="243.6425" x2="383.49999999999994" y2="243.6425" stroke="#adc493" stroke-width="1"/>
<line x1="465.09999999999997" y1="224.9375" x2="465.09999999999997" y2="228.16250000000002" stroke="#adc493" stroke-width="1"/>
<line x1="462.9" y1="224.9375" x2="467.29999999999995" y2="224.9375" stroke="#adc493" stroke-width="1"/>
<line x1="462.9" y1="228.16250000000002" x2="467.29999999999995" y2="228.16250000000002" stroke="#adc493" stroke-width="1"/>
<polygon points="336.9,258.09000000000003 341.9,258.09000000000003 339.4,262.59000000000003" fill="#adc493"/>
<polygon points="378.79999999999995,238.41750000000002 383.79999999999995,238.41750000000002 381.29999999999995,242.91750000000002" fill="#adc493"/>
<polygon points="462.59999999999997,224.55 467.59999999999997,224.55 465.09999999999997,229.05" fill="#adc493"/>
<polyline points="339.40,255.57 381.30,233.32 465.10,213.33" fill="none" stroke="#e7962a" stroke-width="1.4"/>
<line x1="339.4" y1="252.35" x2="339.4" y2="258.8" stroke="#e7962a" stroke-width="1"/>
<line x1="337.2" y1="252.35" x2="341.59999999999997" y2="252.35" stroke="#e7962a" stroke-width="1"/>
<line x1="337.2" y1="258.8" x2="341.59999999999997" y2="258.8" stroke="#e7962a" stroke-width="1"/>
<line x1="381.29999999999995" y1="230.09750000000003" x2="381.29999999999995" y2="236.5475" stroke="#e7962a" stroke-width="1"/>
<line x1="379.09999999999997" y1="230.09750000000003" x2="383.49999999999994" y2="230.09750000000003" stroke="#e7962a" stroke-width="1"/>
<line x1="379.09999999999997" y1="236.5475" x2="383.49999999999994" y2="236.5475" stroke="#e7962a" stroke-width="1"/>
<line x1="465.09999999999997" y1="210.1025" x2="465.09999999999997" y2="216.55249999999998" stroke="#e7962a" stroke-width="1"/>
<line x1="462.9" y1="210.1025" x2="467.29999999999995" y2="210.1025" stroke="#e7962a" stroke-width="1"/>
<line x1="462.9" y1="216.55249999999998" x2="467.29999999999995" y2="216.55249999999998" stroke="#e7962a" stroke-width="1"/>
<polygon points="339.4,253.075 341.9,257.575 336.9,257.575" fill="#e7962a"/>
<polygon points="381.29999999999995,230.82250000000002 383.79999999999995,235.32250000000002 378.79999999999995,235.32250000000002" fill="#e7962a"/>
<polygon points="465.09999999999997,210.8275 467.59999999999997,215.3275 462.59999999999997,215.3275" fill="#e7962a"/>
<polyline points="339.40,245.90 381.30,223.32 465.10,198.49" fill="none" stroke="#34558f" stroke-width="1.4"/>
<line x1="339.4" y1="242.675" x2="339.4" y2="249.125" stroke="#34558f" stroke-width="1"/>
<line x1="337.2" y1="242.675" x2="341.59999999999997" y2="242.675" stroke="#34558f" stroke-width="1"/>
<line x1="337.2" y1="249.125" x2="341.59999999999997" y2="249.125" stroke="#34558f" stroke-width="1"/>
<line x1="381.29999999999995" y1="219.45499999999998" x2="381.29999999999995" y2="227.195" stroke="#34558f" stroke-width="1"/>
<line x1="379.09999999999997" y1="219.45499999999998" x2="383.49999999999994" y2="219.45499999999998" stroke="#34558f" stroke-width="1"/>
<line x1="379.09999999999997" y1="227.195" x2="383.49999999999994" y2="227.195" stroke="#34558f" stroke-width="1"/>
<line x1="465.09999999999997" y1="194.6225" x2="465.09999999999997" y2="202.3625" stroke="#34558f" stroke-width="1"/>
<line x1="462.9" y1="194.6225" x2="467.29999999999995" y2="194.6225" stroke="#34558f" stroke-width="1"/>
<line x1="462.9" y1="202.3625" x2="467.29999999999995" y2="202.3625" stroke="#34558f" stroke-width="1"/>
<polygon points="339.4,243.9 341.4,245.9 339.4,247.9 337.4,245.9" fill="#34558f"/>
<polygon points="381.29999999999995,221.325 383.29999999999995,223.325 381.29999999999995,225.325 379.29999999999995,223.325" fill="#34558f"/>
<polygon points="465.09999999999997,196.4925 467.09999999999997,198.4925 465.09999999999997,200.4925 463.09999999999997,198.4925" fill="#34558f"/>
<polyline points="339.40,245.25 381.30,223.32 465.10,200.75" fill="none" stroke="#5a2b7c" stroke-width="1.4"/>
<line x1="339.4" y1="242.03" x2="339.4" y2="248.48" stroke="#5a2b7c" stroke-width="1"/>
<line x1="337.2" y1="242.03" x2="341.59999999999997" y2="242.03" stroke="#5a2b7c" stroke-width="1"/>
<line x1="337.2" y1="248.48" x2="341.59999999999997" y2="248.48" stroke="#5a2b7c" stroke-width="1"/>
<line x1="381.29999999999995" y1="220.1" x2="381.29999999999995" y2="226.54999999999998" stroke="#5a2b7c" stroke-width="1"/>
<line x1="379.09999999999997" y1="220.1" x2="383.49999999999994" y2="220.1" stroke="#5a2b7c" stroke-width="1"/>
<line x1="379.09999999999997" y1="226.54999999999998" x2="383.49999999999994" y2="226.54999999999998" stroke="#5a2b7c" stroke-width="1"/>
<line x1="465.09999999999997" y1="197.525" x2="465.09999999999997" y2="203.975" stroke="#5a2b7c" stroke-width="1"/>
<line x1="462.9" y1="197.525" x2="467.29999999999995" y2="197.525" stroke="#5a2b7c" stroke-width="1"/>
<line x1="462.9" y1="203.975" x2="467.29999999999995" y2="203.975" stroke="#5a2b7c" stroke-width="1"/>
<circle cx="339.4" cy="245.255" r="2.375" fill="#5a2b7c"/>
<circle cx="381.29999999999995" cy="223.325" r="2.375" fill="#5a2b7c"/>
<circle cx="465.09999999999997" cy="200.75" r="2.375" fill="#5a2b7c"/>
<polyline points="339.40,244.61 381.30,216.23 465.10,191.08" fill="none" stroke="#cf1786" stroke-width="1.4"/>
<line x1="339.4" y1="239.45000000000002" x2="339.4" y2="249.77" stroke="#cf1786" stroke-width="1"/>
<line x1="337.2" y1="239.45000000000002" x2="341.59999999999997" y2="239.45000000000002" stroke="#cf1786" stroke-width="1"/>
<line x1="337.2" y1="249.77" x2="341.59999999999997" y2="249.77" stroke="#cf1786" stroke-width="1"/>
<line x1="381.29999999999995" y1="209.4575" x2="381.29999999999995" y2="223.00250000000003" stroke="#cf1786" stroke-width="1"/>
<line x1="379.09999999999997" y1="209.4575" x2="383.49999999999994" y2="209.4575" stroke="#cf1786" stroke-width="1"/>
<line x1="379.09999999999997" y1="223.00250000000003" x2="383.49999999999994" y2="223.00250000000003" stroke="#cf1786" stroke-width="1"/>
<line x1="465.09999999999997" y1="189.4625" x2="465.09999999999997" y2="192.68750000000003" stroke="#cf1786" stroke-width="1"/>
<line x1="462.9" y1="189.4625" x2="467.29999999999995" y2="189.4625" stroke="#cf1786" stroke-width="1"/>
<line x1="462.9" y1="192.68750000000003" x2="467.29999999999995" y2="192.68750000000003" stroke="#cf1786" stroke-width="1"/>
<rect x="336.9" y="242.11" width="5.0" height="5.0" fill="#cf1786"/>
<rect x="378.79999999999995" y="213.73000000000002" width="5.0" height="5.0" fill="#cf1786"/>
<rect x="462.59999999999997" y="188.57500000000002" width="5.0" height="5.0" fill="#cf1786"/>
<line x1="409.5" y1="269.4" x2="409.5" y2="310.7" stroke="#231f20" stroke-width="1.1"/>
<line x1="416.4" y1="269.4" x2="416.4" y2="304.9" stroke="#231f20" stroke-width="1.1"/>
<line x1="425.1" y1="269" x2="425.1" y2="297.4" stroke="#231f20" stroke-width="1.1"/>
<line x1="432.3" y1="269.4" x2="432.3" y2="290.6" stroke="#231f20" stroke-width="1.1"/>
<line x1="440.4" y1="269.4" x2="440.4" y2="284.5" stroke="#231f20" stroke-width="1.1"/>
<line x1="447.1" y1="269.4" x2="447.1" y2="278.7" stroke="#231f20" stroke-width="1.1"/>
<circle cx="406.30" cy="290.30" r="0.95" fill="#231f20"/>
<circle cx="413.50" cy="282.00" r="0.95" fill="#231f20"/>
<circle cx="413.50" cy="285.40" r="0.95" fill="#231f20"/>
<circle cx="413.50" cy="288.80" r="0.95" fill="#231f20"/>
<circle cx="413.50" cy="292.20" r="0.95" fill="#231f20"/>
<circle cx="421.90" cy="278.00" r="0.95" fill="#231f20"/>
<circle cx="421.90" cy="281.40" r="0.95" fill="#231f20"/>
<circle cx="421.90" cy="284.80" r="0.95" fill="#231f20"/>
<circle cx="421.90" cy="288.20" r="0.95" fill="#231f20"/>
<circle cx="429.10" cy="275.00" r="0.95" fill="#231f20"/>
<circle cx="429.10" cy="278.40" r="0.95" fill="#231f20"/>
<circle cx="429.10" cy="281.80" r="0.95" fill="#231f20"/>
<circle cx="429.10" cy="285.20" r="0.95" fill="#231f20"/>
<circle cx="436.30" cy="271.90" r="0.95" fill="#231f20"/>
<circle cx="436.30" cy="275.30" r="0.95" fill="#231f20"/>
<circle cx="436.30" cy="278.70" r="0.95" fill="#231f20"/>
<circle cx="436.30" cy="282.10" r="0.95" fill="#231f20"/>
<circle cx="444.40" cy="272.50" r="0.95" fill="#231f20"/>
<circle cx="444.40" cy="275.90" r="0.95" fill="#231f20"/>
<line x1="451.8" y1="268.5" x2="458.2" y2="268.5" stroke="#2f5f4c" stroke-width="1"/>
<polygon points="455,265.8 457.7,270.66 452.3,270.66" fill="#fff" stroke="#2f5f4c" stroke-width="1"/>
<text x="461.3" y="271.0" font-size="7.5" text-anchor="start" fill="#2f5f4c" stroke="#2f5f4c" stroke-width="0.08" textLength="26.9" lengthAdjust="spacingAndGlyphs">sgAAVS</text>
<line x1="451.8" y1="275.7" x2="458.2" y2="275.7" stroke="#6cb04a" stroke-width="1"/>
<polygon points="452.3,273.81 457.7,273.81 455,278.13" fill="#6cb04a"/>
<text x="461.3" y="278.2" font-size="7.5" text-anchor="start" fill="#6cb04a" stroke="#6cb04a" stroke-width="0.08" textLength="46.6" lengthAdjust="spacingAndGlyphs">sgATNX7L3-1</text>
<line x1="451.8" y1="282.9" x2="458.2" y2="282.9" stroke="#34558f" stroke-width="1"/>
<polygon points="455,280.73999999999995 457.16,282.9 455,285.06 452.84,282.9" fill="#34558f"/>
<text x="461.3" y="285.4" font-size="7.5" text-anchor="start" fill="#34558f" stroke="#34558f" stroke-width="0.08" textLength="46.6" lengthAdjust="spacingAndGlyphs">sgATNX7L3-2</text>
<line x1="451.8" y1="290.1" x2="458.2" y2="290.1" stroke="#5a2b7c" stroke-width="1"/>
<polygon points="451.975,290.1 455,287.90000000000003 458.025,290.1 455,292.3" fill="#5a2b7c"/>
<text x="461.3" y="292.6" font-size="7.5" text-anchor="start" fill="#5a2b7c" stroke="#5a2b7c" stroke-width="0.08" textLength="33.2" lengthAdjust="spacingAndGlyphs">sgENY2-1</text>
<line x1="451.8" y1="297.3" x2="458.2" y2="297.3" stroke="#cf1786" stroke-width="1"/>
<polygon points="452.1125,297.3 453.55625,294.675 456.44375,294.675 457.8875,297.3 456.44375,299.925 453.55625,299.925" fill="#cf1786"/>
<text x="461.3" y="299.8" font-size="7.5" text-anchor="start" fill="#cf1786" stroke="#cf1786" stroke-width="0.08" textLength="33.4" lengthAdjust="spacingAndGlyphs">sgENY2-2</text>
<line x1="451.8" y1="304.5" x2="458.2" y2="304.5" stroke="#e7962a" stroke-width="1"/>
<polygon points="455,301.8 457.7,306.66 452.3,306.66" fill="#e7962a"/>
<text x="461.3" y="307.0" font-size="7.5" text-anchor="start" fill="#e7962a" stroke="#e7962a" stroke-width="0.08" textLength="36.6" lengthAdjust="spacingAndGlyphs">sgUSP22-1</text>
<line x1="451.8" y1="311.7" x2="458.2" y2="311.7" stroke="#adc493" stroke-width="1"/>
<polygon points="452.3,309.53999999999996 457.7,309.53999999999996 455,314.4" fill="#adc493"/>
<text x="461.3" y="314.2" font-size="7.5" text-anchor="start" fill="#adc493" stroke="#adc493" stroke-width="0.08" textLength="37" lengthAdjust="spacingAndGlyphs">sgUSP22-2</text>
<line x1="55.5" y1="396.2" x2="55.5" y2="541.7" stroke="#231f20" stroke-width="1.2"/>
<line x1="55.0" y1="541.2" x2="231.2" y2="541.2" stroke="#231f20" stroke-width="1.2"/>
<line x1="52.3" y1="541.2" x2="55.5" y2="541.2" stroke="#231f20" stroke-width="1"/>
<text x="49.3" y="544.2" font-size="9" text-anchor="end" fill="#231f20" stroke="#231f20" stroke-width="0.25" textLength="4.3" lengthAdjust="spacingAndGlyphs">0</text>
<line x1="52.3" y1="505.57500000000005" x2="55.5" y2="505.57500000000005" stroke="#231f20" stroke-width="1"/>
<text x="49.3" y="508.57500000000005" font-size="9" text-anchor="end" fill="#231f20" stroke="#231f20" stroke-width="0.25" textLength="8.6" lengthAdjust="spacingAndGlyphs">10</text>
<line x1="52.3" y1="469.95000000000005" x2="55.5" y2="469.95000000000005" stroke="#231f20" stroke-width="1"/>
<text x="49.3" y="472.95000000000005" font-size="9" text-anchor="end" fill="#231f20" stroke="#231f20" stroke-width="0.25" textLength="8.6" lengthAdjust="spacingAndGlyphs">20</text>
<line x1="52.3" y1="434.32500000000005" x2="55.5" y2="434.32500000000005" stroke="#231f20" stroke-width="1"/>
<text x="49.3" y="437.32500000000005" font-size="9" text-anchor="end" fill="#231f20" stroke="#231f20" stroke-width="0.25" textLength="8.6" lengthAdjust="spacingAndGlyphs">30</text>
<line x1="52.3" y1="398.70000000000005" x2="55.5" y2="398.70000000000005" stroke="#231f20" stroke-width="1"/>
<text x="49.3" y="401.70000000000005" font-size="9" text-anchor="end" fill="#231f20" stroke="#231f20" stroke-width="0.25" textLength="8.6" lengthAdjust="spacingAndGlyphs">40</text>
<line x1="77.6" y1="541.2" x2="77.6" y2="544.0" stroke="#231f20" stroke-width="1"/>
<text x="77.6" y="554.6" font-size="9" text-anchor="middle" fill="#231f20" stroke="#231f20" stroke-width="0.25" textLength="4.2" lengthAdjust="spacingAndGlyphs">1</text>
<line x1="121.6" y1="541.2" x2="121.6" y2="544.0" stroke="#231f20" stroke-width="1"/>
<text x="121.6" y="554.6" font-size="9" text-anchor="middle" fill="#231f20" stroke="#231f20" stroke-width="0.25" textLength="4.2" lengthAdjust="spacingAndGlyphs">2</text>
<line x1="165.6" y1="541.2" x2="165.6" y2="544.0" stroke="#231f20" stroke-width="1"/>
<text x="165.6" y="554.6" font-size="9" text-anchor="middle" fill="#231f20" stroke="#231f20" stroke-width="0.25" textLength="4.2" lengthAdjust="spacingAndGlyphs">3</text>
<line x1="209.6" y1="541.2" x2="209.6" y2="544.0" stroke="#231f20" stroke-width="1"/>
<text x="209.6" y="554.6" font-size="9" text-anchor="middle" fill="#231f20" stroke="#231f20" stroke-width="0.25" textLength="4.2" lengthAdjust="spacingAndGlyphs">4</text>
<text x="109.5" y="567.9" font-size="9.5" text-anchor="start" fill="#231f20" stroke="#231f20" stroke-width="0.25" textLength="68.4" lengthAdjust="spacingAndGlyphs">DNT:OCI-AML2 ratio</text>
<text transform="translate(34.6,468.5) rotate(-90)" font-size="9.8" text-anchor="middle" fill="#231f20" stroke="#231f20" stroke-width="0.25" textLength="64.5" lengthAdjust="spacingAndGlyphs">Specific killing (%)</text>
<text x="143.7" y="390" font-size="10" text-anchor="middle" fill="#231f20" stroke="#231f20" stroke-width="0.25">AML2</text>
<polyline points="77.60,485.98 121.60,478.86 209.60,457.48" fill="none" stroke="#2f5f4c" stroke-width="1.2" stroke-dasharray="3.5,2.4"/>
<line x1="77.6" y1="483.84375000000006" x2="77.6" y2="488.11875000000003" stroke="#2f5f4c" stroke-width="1"/>
<line x1="75.39999999999999" y1="483.84375000000006" x2="79.8" y2="483.84375000000006" stroke="#2f5f4c" stroke-width="1"/>
<line x1="75.39999999999999" y1="488.11875000000003" x2="79.8" y2="488.11875000000003" stroke="#2f5f4c" stroke-width="1"/>
<line x1="121.6" y1="477.07500000000005" x2="121.6" y2="480.63750000000005" stroke="#2f5f4c" stroke-width="1"/>
<line x1="119.39999999999999" y1="477.07500000000005" x2="123.8" y2="477.07500000000005" stroke="#2f5f4c" stroke-width="1"/>
<line x1="119.39999999999999" y1="480.63750000000005" x2="123.8" y2="480.63750000000005" stroke="#2f5f4c" stroke-width="1"/>
<line x1="209.6" y1="455.34375000000006" x2="209.6" y2="459.61875000000003" stroke="#2f5f4c" stroke-width="1"/>
<line x1="207.4" y1="455.34375000000006" x2="211.79999999999998" y2="455.34375000000006" stroke="#2f5f4c" stroke-width="1"/>
<line x1="207.4" y1="459.61875000000003" x2="211.79999999999998" y2="459.61875000000003" stroke="#2f5f4c" stroke-width="1"/>
<polygon points="77.6,483.68125000000003 79.89999999999999,487.82125 75.3,487.82125" fill="#fff" stroke="#2f5f4c" stroke-width="1"/>
<polygon points="121.6,476.55625000000003 123.89999999999999,480.69625 119.3,480.69625" fill="#fff" stroke="#2f5f4c" stroke-width="1"/>
<polygon points="209.6,455.18125000000003 211.9,459.32125 207.29999999999998,459.32125" fill="#fff" stroke="#2f5f4c" stroke-width="1"/>
<polyline points="77.60,483.84 121.60,478.50 209.60,456.77" fill="none" stroke="#e7962a" stroke-width="1.2"/>
<line x1="77.6" y1="481.70625000000007" x2="77.6" y2="485.98125000000005" stroke="#e7962a" stroke-width="1"/>
<line x1="75.39999999999999" y1="481.70625000000007" x2="79.8" y2="481.70625000000007" stroke="#e7962a" stroke-width="1"/>
<line x1="75.39999999999999" y1="485.98125000000005" x2="79.8" y2="485.98125000000005" stroke="#e7962a" stroke-width="1"/>
<line x1="121.6" y1="476.71875000000006" x2="121.6" y2="480.28125000000006" stroke="#e7962a" stroke-width="1"/>
<line x1="119.39999999999999" y1="476.71875000000006" x2="123.8" y2="476.71875000000006" stroke="#e7962a" stroke-width="1"/>
<line x1="119.39999999999999" y1="480.28125000000006" x2="123.8" y2="480.28125000000006" stroke="#e7962a" stroke-width="1"/>
<line x1="209.6" y1="454.98750000000007" x2="209.6" y2="458.55000000000007" stroke="#e7962a" stroke-width="1"/>
<line x1="207.4" y1="454.98750000000007" x2="211.79999999999998" y2="454.98750000000007" stroke="#e7962a" stroke-width="1"/>
<line x1="207.4" y1="458.55000000000007" x2="211.79999999999998" y2="458.55000000000007" stroke="#e7962a" stroke-width="1"/>
<polygon points="77.6,481.54375000000005 79.89999999999999,485.68375000000003 75.3,485.68375000000003" fill="#e7962a"/>
<polygon points="121.6,476.20000000000005 123.89999999999999,480.34000000000003 119.3,480.34000000000003" fill="#e7962a"/>
<polygon points="209.6,454.46875000000006 211.9,458.60875000000004 207.29999999999998,458.60875000000004" fill="#e7962a"/>
<polyline points="77.60,480.99 121.60,477.43 209.60,451.78" fill="none" stroke="#adc493" stroke-width="1.2"/>
<line x1="77.6" y1="478.85625000000005" x2="77.6" y2="483.13125" stroke="#adc493" stroke-width="1"/>
<line x1="75.39999999999999" y1="478.85625000000005" x2="79.8" y2="478.85625000000005" stroke="#adc493" stroke-width="1"/>
<line x1="75.39999999999999" y1="483.13125" x2="79.8" y2="483.13125" stroke="#adc493" stroke-width="1"/>
<line x1="121.6" y1="474.58125" x2="121.6" y2="480.28125000000006" stroke="#adc493" stroke-width="1"/>
<line x1="119.39999999999999" y1="474.58125" x2="123.8" y2="474.58125" stroke="#adc493" stroke-width="1"/>
<line x1="119.39999999999999" y1="480.28125000000006" x2="123.8" y2="480.28125000000006" stroke="#adc493" stroke-width="1"/>
<line x1="209.6" y1="448.93125000000003" x2="209.6" y2="454.6312500000001" stroke="#adc493" stroke-width="1"/>
<line x1="207.4" y1="448.93125000000003" x2="211.79999999999998" y2="448.93125000000003" stroke="#adc493" stroke-width="1"/>
<line x1="207.4" y1="454.6312500000001" x2="211.79999999999998" y2="454.6312500000001" stroke="#adc493" stroke-width="1"/>
<polygon points="75.3,479.15375000000006 79.89999999999999,479.15375000000006 77.6,483.29375000000005" fill="#adc493"/>
<polygon points="119.3,475.59125000000006 123.89999999999999,475.59125000000006 121.6,479.73125000000005" fill="#adc493"/>
<polygon points="207.29999999999998,449.9412500000001 211.9,449.9412500000001 209.6,454.08125000000007" fill="#adc493"/>
<polyline points="77.60,480.64 121.60,464.61 209.60,437.89" fill="none" stroke="#6cb04a" stroke-width="1.2"/>
<line x1="77.6" y1="478.50000000000006" x2="77.6" y2="482.77500000000003" stroke="#6cb04a" stroke-width="1"/>
<line x1="75.39999999999999" y1="478.50000000000006" x2="79.8" y2="478.50000000000006" stroke="#6cb04a" stroke-width="1"/>
<line x1="75.39999999999999" y1="482.77500000000003" x2="79.8" y2="482.77500000000003" stroke="#6cb04a" stroke-width="1"/>
<line x1="121.6" y1="459.26250000000005" x2="121.6" y2="469.95000000000005" stroke="#6cb04a" stroke-width="1"/>
<line x1="119.39999999999999" y1="459.26250000000005" x2="123.8" y2="459.26250000000005" stroke="#6cb04a" stroke-width="1"/>
<line x1="119.39999999999999" y1="469.95000000000005" x2="123.8" y2="469.95000000000005" stroke="#6cb04a" stroke-width="1"/>
<line x1="209.6" y1="434.32500000000005" x2="209.6" y2="441.45000000000005" stroke="#6cb04a" stroke-width="1"/>
<line x1="207.4" y1="434.32500000000005" x2="211.79999999999998" y2="434.32500000000005" stroke="#6cb04a" stroke-width="1"/>
<line x1="207.4" y1="441.45000000000005" x2="211.79999999999998" y2="441.45000000000005" stroke="#6cb04a" stroke-width="1"/>
<polygon points="75.3,479.02750000000003 79.89999999999999,479.02750000000003 77.6,482.70750000000004" fill="#6cb04a"/>
<polygon points="119.3,462.99625000000003 123.89999999999999,462.99625000000003 121.6,466.67625000000004" fill="#6cb04a"/>
<polygon points="207.29999999999998,436.27750000000003 211.9,436.27750000000003 209.6,439.95750000000004" fill="#6cb04a"/>
<polyline points="77.60,478.86 121.60,461.04 209.60,441.81" fill="none" stroke="#5a2b7c" stroke-width="1.2"/>
<line x1="77.6" y1="476.71875000000006" x2="77.6" y2="480.99375000000003" stroke="#5a2b7c" stroke-width="1"/>
<line x1="75.39999999999999" y1="476.71875000000006" x2="79.8" y2="476.71875000000006" stroke="#5a2b7c" stroke-width="1"/>
<line x1="75.39999999999999" y1="480.99375000000003" x2="79.8" y2="480.99375000000003" stroke="#5a2b7c" stroke-width="1"/>
<line x1="121.6" y1="458.19375" x2="121.6" y2="463.89375000000007" stroke="#5a2b7c" stroke-width="1"/>
<line x1="119.39999999999999" y1="458.19375" x2="123.8" y2="458.19375" stroke="#5a2b7c" stroke-width="1"/>
<line x1="119.39999999999999" y1="463.89375000000007" x2="123.8" y2="463.89375000000007" stroke="#5a2b7c" stroke-width="1"/>
<line x1="209.6" y1="437.53125000000006" x2="209.6" y2="446.08125" stroke="#5a2b7c" stroke-width="1"/>
<line x1="207.4" y1="437.53125000000006" x2="211.79999999999998" y2="437.53125000000006" stroke="#5a2b7c" stroke-width="1"/>
<line x1="207.4" y1="446.08125" x2="211.79999999999998" y2="446.08125" stroke="#5a2b7c" stroke-width="1"/>
<circle cx="77.6" cy="478.85625000000005" r="2.1849999999999996" fill="#5a2b7c"/>
<circle cx="121.6" cy="461.04375000000005" r="2.1849999999999996" fill="#5a2b7c"/>
<circle cx="209.6" cy="441.80625000000003" r="2.1849999999999996" fill="#5a2b7c"/>
<polyline points="77.60,475.29 121.60,457.13 209.60,424.35" fill="none" stroke="#cf1786" stroke-width="1.2"/>
<line x1="77.6" y1="472.44375" x2="77.6" y2="478.14375000000007" stroke="#cf1786" stroke-width="1"/>
<line x1="75.39999999999999" y1="472.44375" x2="79.8" y2="472.44375" stroke="#cf1786" stroke-width="1"/>
<line x1="75.39999999999999" y1="478.14375000000007" x2="79.8" y2="478.14375000000007" stroke="#cf1786" stroke-width="1"/>
<line x1="121.6" y1="453.56250000000006" x2="121.6" y2="460.68750000000006" stroke="#cf1786" stroke-width="1"/>
<line x1="119.39999999999999" y1="453.56250000000006" x2="123.8" y2="453.56250000000006" stroke="#cf1786" stroke-width="1"/>
<line x1="119.39999999999999" y1="460.68750000000006" x2="123.8" y2="460.68750000000006" stroke="#cf1786" stroke-width="1"/>
<line x1="209.6" y1="420.07500000000005" x2="209.6" y2="428.625" stroke="#cf1786" stroke-width="1"/>
<line x1="207.4" y1="420.07500000000005" x2="211.79999999999998" y2="420.07500000000005" stroke="#cf1786" stroke-width="1"/>
<line x1="207.4" y1="428.625" x2="211.79999999999998" y2="428.625" stroke="#cf1786" stroke-width="1"/>
<rect x="75.3" y="472.99375000000003" width="4.6" height="4.6" fill="#cf1786"/>
<rect x="119.3" y="454.82500000000005" width="4.6" height="4.6" fill="#cf1786"/>
<rect x="207.29999999999998" y="422.05" width="4.6" height="4.6" fill="#cf1786"/>
<polyline points="77.60,469.95 121.60,446.44 209.60,417.58" fill="none" stroke="#34558f" stroke-width="1.2"/>
<line x1="77.6" y1="467.81250000000006" x2="77.6" y2="472.08750000000003" stroke="#34558f" stroke-width="1"/>
<line x1="75.39999999999999" y1="467.81250000000006" x2="79.8" y2="467.81250000000006" stroke="#34558f" stroke-width="1"/>
<line x1="75.39999999999999" y1="472.08750000000003" x2="79.8" y2="472.08750000000003" stroke="#34558f" stroke-width="1"/>
<line x1="121.6" y1="440.3812500000001" x2="121.6" y2="452.49375000000003" stroke="#34558f" stroke-width="1"/>
<line x1="119.39999999999999" y1="440.3812500000001" x2="123.8" y2="440.3812500000001" stroke="#34558f" stroke-width="1"/>
<line x1="119.39999999999999" y1="452.49375000000003" x2="123.8" y2="452.49375000000003" stroke="#34558f" stroke-width="1"/>
<line x1="209.6" y1="411.5250000000001" x2="209.6" y2="423.63750000000005" stroke="#34558f" stroke-width="1"/>
<line x1="207.4" y1="411.5250000000001" x2="211.79999999999998" y2="411.5250000000001" stroke="#34558f" stroke-width="1"/>
<line x1="207.4" y1="423.63750000000005" x2="211.79999999999998" y2="423.63750000000005" stroke="#34558f" stroke-width="1"/>
<polygon points="77.6,468.11000000000007 79.44,469.95000000000005 77.6,471.79 75.75999999999999,469.95000000000005" fill="#34558f"/>
<polygon points="121.6,444.5975000000001 123.44,446.43750000000006 121.6,448.27750000000003 119.75999999999999,446.43750000000006" fill="#34558f"/>
<polygon points="209.6,415.7412500000001 211.44,417.58125000000007 209.6,419.42125000000004 207.76,417.58125000000007" fill="#34558f"/>
<line x1="159.5" y1="478.8" x2="159.5" y2="533" stroke="#231f20" stroke-width="1.1"/>
<line x1="167.7" y1="478.8" x2="167.7" y2="525.6" stroke="#231f20" stroke-width="1.1"/>
<line x1="175.9" y1="478.8" x2="175.9" y2="517" stroke="#231f20" stroke-width="1.1"/>
<line x1="183.7" y1="478.8" x2="183.7" y2="508.7" stroke="#231f20" stroke-width="1.1"/>
<line x1="191.5" y1="478.8" x2="191.5" y2="500.9" stroke="#231f20" stroke-width="1.1"/>
<line x1="198.2" y1="478.8" x2="198.2" y2="491.8" stroke="#231f20" stroke-width="1.1"/>
<circle cx="171.60" cy="494.00" r="0.95" fill="#231f20"/>
<circle cx="171.60" cy="497.50" r="0.95" fill="#231f20"/>
<circle cx="171.60" cy="501.00" r="0.95" fill="#231f20"/>
<circle cx="179.80" cy="491.30" r="0.95" fill="#231f20"/>
<circle cx="179.80" cy="494.80" r="0.95" fill="#231f20"/>
<circle cx="187.60" cy="486.30" r="0.95" fill="#231f20"/>
<circle cx="187.60" cy="489.80" r="0.95" fill="#231f20"/>
<circle cx="187.60" cy="493.30" r="0.95" fill="#231f20"/>
<circle cx="195.60" cy="485.30" r="0.95" fill="#231f20"/>
<text transform="translate(152.9,499.6) rotate(90)" font-size="7.6" text-anchor="start" fill="#231f20" stroke="#231f20" stroke-width="0.25">n.s.</text>
<text transform="translate(161.0,495.8) rotate(90)" font-size="7.6" text-anchor="start" fill="#231f20" stroke="#231f20" stroke-width="0.25">n.s.</text>
<line x1="203.5" y1="480.8" x2="209.89999999999998" y2="480.8" stroke="#2f5f4c" stroke-width="1"/>
<polygon points="206.7,478.31600000000003 209.184,482.7872 204.21599999999998,482.7872" fill="#fff" stroke="#2f5f4c" stroke-width="1"/>
<text x="213.1" y="483.3" font-size="7.5" text-anchor="start" fill="#2f5f4c" stroke="#2f5f4c" stroke-width="0.08" textLength="26.9" lengthAdjust="spacingAndGlyphs">sgAAVS</text>
<line x1="203.5" y1="489.38" x2="209.89999999999998" y2="489.38" stroke="#6cb04a" stroke-width="1"/>
<polygon points="204.21599999999998,487.64119999999997 209.184,487.64119999999997 206.7,491.6156" fill="#6cb04a"/>
<text x="213.1" y="491.88" font-size="7.5" text-anchor="start" fill="#6cb04a" stroke="#6cb04a" stroke-width="0.08" textLength="46.3" lengthAdjust="spacingAndGlyphs">sgATXN7L3-1</text>
<line x1="203.5" y1="497.96000000000004" x2="209.89999999999998" y2="497.96000000000004" stroke="#34558f" stroke-width="1"/>
<polygon points="206.7,495.97280000000006 208.6872,497.96000000000004 206.7,499.9472 204.7128,497.96000000000004" fill="#34558f"/>
<text x="213.1" y="500.46000000000004" font-size="7.5" text-anchor="start" fill="#34558f" stroke="#34558f" stroke-width="0.08" textLength="46.3" lengthAdjust="spacingAndGlyphs">sgATXN7L3-2</text>
<line x1="203.5" y1="506.54" x2="209.89999999999998" y2="506.54" stroke="#5a2b7c" stroke-width="1"/>
<polygon points="203.917,506.54 206.7,504.516 209.48299999999998,506.54 206.7,508.564" fill="#5a2b7c"/>
<text x="213.1" y="509.04" font-size="7.5" text-anchor="start" fill="#5a2b7c" stroke="#5a2b7c" stroke-width="0.08" textLength="33.1" lengthAdjust="spacingAndGlyphs">sgENY2-1</text>
<line x1="203.5" y1="515.12" x2="209.89999999999998" y2="515.12" stroke="#cf1786" stroke-width="1"/>
<polygon points="204.0435,515.12 205.37175,512.705 208.02824999999999,512.705 209.35649999999998,515.12 208.02824999999999,517.535 205.37175,517.535" fill="#cf1786"/>
<text x="213.1" y="517.62" font-size="7.5" text-anchor="start" fill="#cf1786" stroke="#cf1786" stroke-width="0.08" textLength="33.3" lengthAdjust="spacingAndGlyphs">sgENY2-2</text>
<line x1="203.5" y1="523.7" x2="209.89999999999998" y2="523.7" stroke="#e7962a" stroke-width="1"/>
<polygon points="206.7,521.216 209.184,525.6872000000001 204.21599999999998,525.6872000000001" fill="#e7962a"/>
<text x="213.1" y="526.2" font-size="7.5" text-anchor="start" fill="#e7962a" stroke="#e7962a" stroke-width="0.08" textLength="37" lengthAdjust="spacingAndGlyphs">sgUSP22-1</text>
<line x1="203.5" y1="532.28" x2="209.89999999999998" y2="532.28" stroke="#adc493" stroke-width="1"/>
<polygon points="204.21599999999998,530.2927999999999 209.184,530.2927999999999 206.7,534.764" fill="#adc493"/>
<text x="213.1" y="534.78" font-size="7.5" text-anchor="start" fill="#adc493" stroke="#adc493" stroke-width="0.08" textLength="37.3" lengthAdjust="spacingAndGlyphs">sgUSP22-2</text>
<text x="322.6" y="452.6" font-size="8.4" text-anchor="end" fill="#231f20" stroke="#231f20" stroke-width="0.25">AML2</text>
<text x="322.6" y="494.8" font-size="8.4" text-anchor="end" fill="#231f20" stroke="#231f20" stroke-width="0.25">AML3</text>
<line x1="326" y1="433.3" x2="326" y2="466" stroke="#555" stroke-width="1.3"/>
<line x1="326" y1="475.4" x2="326" y2="508.4" stroke="#555" stroke-width="1.3"/>
<text x="359.3" y="440.9" font-size="8.2" text-anchor="end" fill="#231f20" stroke="#231f20" stroke-width="0.25">H2Bubq</text>
<text x="359.3" y="460" font-size="8.2" text-anchor="end" fill="#231f20" stroke="#231f20" stroke-width="0.25">H2B</text>
<text x="359.3" y="485.2" font-size="8.2" text-anchor="end" fill="#231f20" stroke="#231f20" stroke-width="0.25">H2Bubq</text>
<text x="359.3" y="504.8" font-size="8.2" text-anchor="end" fill="#231f20" stroke="#231f20" stroke-width="0.25">H2B</text>
<text transform="translate(375.7,427.3) rotate(-90)" font-size="8.2" text-anchor="start" fill="#231f20" stroke="#231f20" stroke-width="0.25">sgATXN7L3-1</text>
<text transform="translate(389,427.3) rotate(-90)" font-size="8.2" text-anchor="start" fill="#231f20" stroke="#231f20" stroke-width="0.25">sgATXN7L3- 2</text>
<text transform="translate(401.7,427.3) rotate(-90)" font-size="8.2" text-anchor="start" fill="#231f20" stroke="#231f20" stroke-width="0.25">sgAAVS</text>
<text transform="translate(421.5,427.3) rotate(-90)" font-size="8.2" text-anchor="start" fill="#231f20" stroke="#231f20" stroke-width="0.25">sgUSP22- 2</text>
<text transform="translate(434.5,427.3) rotate(-90)" font-size="8.2" text-anchor="start" fill="#231f20" stroke="#231f20" stroke-width="0.25">sgUSP22- 1</text>
<text transform="translate(447.5,427.3) rotate(-90)" font-size="8.2" text-anchor="start" fill="#231f20" stroke="#231f20" stroke-width="0.25">sgAAVS</text>
<text transform="translate(467.7,427.3) rotate(-90)" font-size="8.2" text-anchor="start" fill="#231f20" stroke="#231f20" stroke-width="0.25">sgENY2- 2</text>
<text transform="translate(481,427.3) rotate(-90)" font-size="8.2" text-anchor="start" fill="#231f20" stroke="#231f20" stroke-width="0.25">sgENY2- 1</text>
<text transform="translate(494,427.3) rotate(-90)" font-size="8.2" text-anchor="start" fill="#231f20" stroke="#231f20" stroke-width="0.25">sgAAVS</text>
<rect x="362.9" y="429.2" width="44.1" height="16.4" fill="#161616"/>
<rect x="363.9" y="430.2" width="42.1" height="14.399999999999999" fill="#7a7a7a"/>
<rect x="366.00" y="435.70" width="12.00" height="4.60" rx="1.53" fill="#111" filter="url(#b1)"/>
<rect x="380.60" y="435.50" width="10.90" height="4.00" rx="1.33" fill="#3a3a3a" filter="url(#b1)"/>
<rect x="362.9" y="447.8" width="44.1" height="16.2" fill="#161616"/>
<rect x="363.9" y="448.8" width="42.1" height="14.2" fill="#5a5a5a"/>
<rect x="363.50" y="450.05" width="14.00" height="11.50" rx="3.83" fill="#0a0a0a" filter="url(#b1)"/>
<rect x="379.00" y="452.50" width="14.00" height="7.00" rx="2.33" fill="#161616" filter="url(#b1)"/>
<rect x="393.00" y="449.80" width="14.00" height="13.00" rx="4.33" fill="#0a0a0a" filter="url(#b1)"/>
<rect x="362.9" y="472.6" width="44.1" height="16.1" fill="#161616"/>
<rect x="363.9" y="473.6" width="42.1" height="14.100000000000001" fill="#a8a8a8"/>
<rect x="367.00" y="478.00" width="9.00" height="3.00" rx="1.00" fill="#555" filter="url(#b1)"/>
<rect x="377.50" y="475.60" width="14.00" height="8.80" rx="2.93" fill="#0a0a0a" filter="url(#b1)"/>
<rect x="393.00" y="479.75" width="8.00" height="2.50" rx="0.83" fill="#999" filter="url(#b1)"/>
<rect x="362.9" y="490.8" width="44.1" height="16.8" fill="#161616"/>
<rect x="363.9" y="491.8" width="42.1" height="14.8" fill="#999999"/>
<rect x="363.00" y="496.25" width="12.00" height="9.50" rx="3.17" fill="#111" filter="url(#b1)"/>
<rect x="376.00" y="496.25" width="12.00" height="9.50" rx="3.17" fill="#111" filter="url(#b1)"/>
<rect x="389.50" y="498.00" width="11.50" height="7.00" rx="2.33" fill="#161616" filter="url(#b1)"/>
<rect x="409.1" y="429.2" width="44.8" height="16.4" fill="#161616"/>
<rect x="410.1" y="430.2" width="42.8" height="14.399999999999999" fill="#8e8e8e"/>
<rect x="413.10" y="434.80" width="9.50" height="4.00" rx="1.33" fill="#333" filter="url(#b1)"/>
<rect x="426.30" y="435.50" width="10.30" height="4.00" rx="1.33" fill="#383838" filter="url(#b1)"/>
<rect x="441.00" y="436.50" width="9.90" height="3.00" rx="1.00" fill="#666" filter="url(#b1)"/>
<rect x="409.1" y="447.8" width="44.8" height="16.2" fill="#161616"/>
<rect x="410.1" y="448.8" width="42.8" height="14.2" fill="#6a6a6a"/>
<rect x="410.00" y="450.30" width="14.00" height="11.00" rx="3.67" fill="#111" filter="url(#b1)"/>
<rect x="424.50" y="450.30" width="13.00" height="11.00" rx="3.67" fill="#111" filter="url(#b1)"/>
<rect x="438.00" y="450.30" width="14.50" height="11.00" rx="3.67" fill="#111" filter="url(#b1)"/>
<rect x="409.1" y="472.6" width="44.8" height="16.1" fill="#161616"/>
<rect x="410.1" y="473.6" width="42.8" height="14.100000000000001" fill="#b0b0b0"/>
<rect x="410.10" y="476.60" width="11.10" height="7.00" rx="2.33" fill="#222" filter="url(#b1)"/>
<rect x="424.10" y="477.60" width="11.00" height="6.00" rx="2.00" fill="#2a2a2a" filter="url(#b1)"/>
<rect x="438.00" y="479.80" width="8.00" height="3.00" rx="1.00" fill="#999" filter="url(#b1)"/>
<rect x="409.1" y="490.8" width="44.8" height="16.8" fill="#161616"/>
<rect x="410.1" y="491.8" width="42.8" height="14.8" fill="#999999"/>
<rect x="409.50" y="495.00" width="11.70" height="7.00" rx="2.33" fill="#111" filter="url(#b1)"/>
<rect x="422.60" y="495.50" width="13.30" height="6.00" rx="2.00" fill="#151515" filter="url(#b1)"/>
<rect x="438.10" y="495.75" width="13.20" height="5.50" rx="1.83" fill="#1a1a1a" filter="url(#b1)"/>
<rect x="456.2" y="429.2" width="44.6" height="16.4" fill="#161616"/>
<rect x="457.2" y="430.2" width="42.6" height="14.399999999999999" fill="#8a8a8a"/>
<rect x="459.10" y="436.75" width="11.80" height="4.50" rx="1.50" fill="#111" filter="url(#b1)"/>
<rect x="473.80" y="437.25" width="10.80" height="3.50" rx="1.17" fill="#222" filter="url(#b1)"/>
<rect x="456.2" y="447.8" width="44.6" height="16.2" fill="#161616"/>
<rect x="457.2" y="448.8" width="42.6" height="14.2" fill="#707070"/>
<rect x="457.00" y="452.70" width="13.50" height="7.00" rx="2.33" fill="#1a1a1a" filter="url(#b1)"/>
<rect x="471.00" y="452.70" width="13.50" height="7.00" rx="2.33" fill="#1a1a1a" filter="url(#b1)"/>
<rect x="485.00" y="453.50" width="12.00" height="6.00" rx="2.00" fill="#2a2a2a" filter="url(#b1)"/>
<rect x="456.2" y="472.6" width="44.6" height="16.1" fill="#161616"/>
<rect x="457.2" y="473.6" width="42.6" height="14.100000000000001" fill="#9a9a9a"/>
<rect x="457.60" y="482.85" width="10.30" height="3.50" rx="1.17" fill="#111" filter="url(#b1)"/>
<rect x="472.00" y="483.75" width="8.90" height="2.50" rx="0.83" fill="#555" filter="url(#b1)"/>
<rect x="456.2" y="490.8" width="44.6" height="16.8" fill="#161616"/>
<rect x="457.2" y="491.8" width="42.6" height="14.8" fill="#9a9a9a"/>
<rect x="457.00" y="496.05" width="11.00" height="3.50" rx="1.17" fill="#222" filter="url(#b1)"/>
<rect x="472.00" y="497.05" width="10.00" height="3.50" rx="1.17" fill="#222" filter="url(#b1)"/>
<rect x="485.30" y="497.50" width="12.50" height="5.00" rx="1.67" fill="#1a1a1a" filter="url(#b1)"/>
<rect x="0.5" y="0.5" width="519" height="577" fill="none" stroke="#000" stroke-width="1.4"/>
</svg></body></html>
